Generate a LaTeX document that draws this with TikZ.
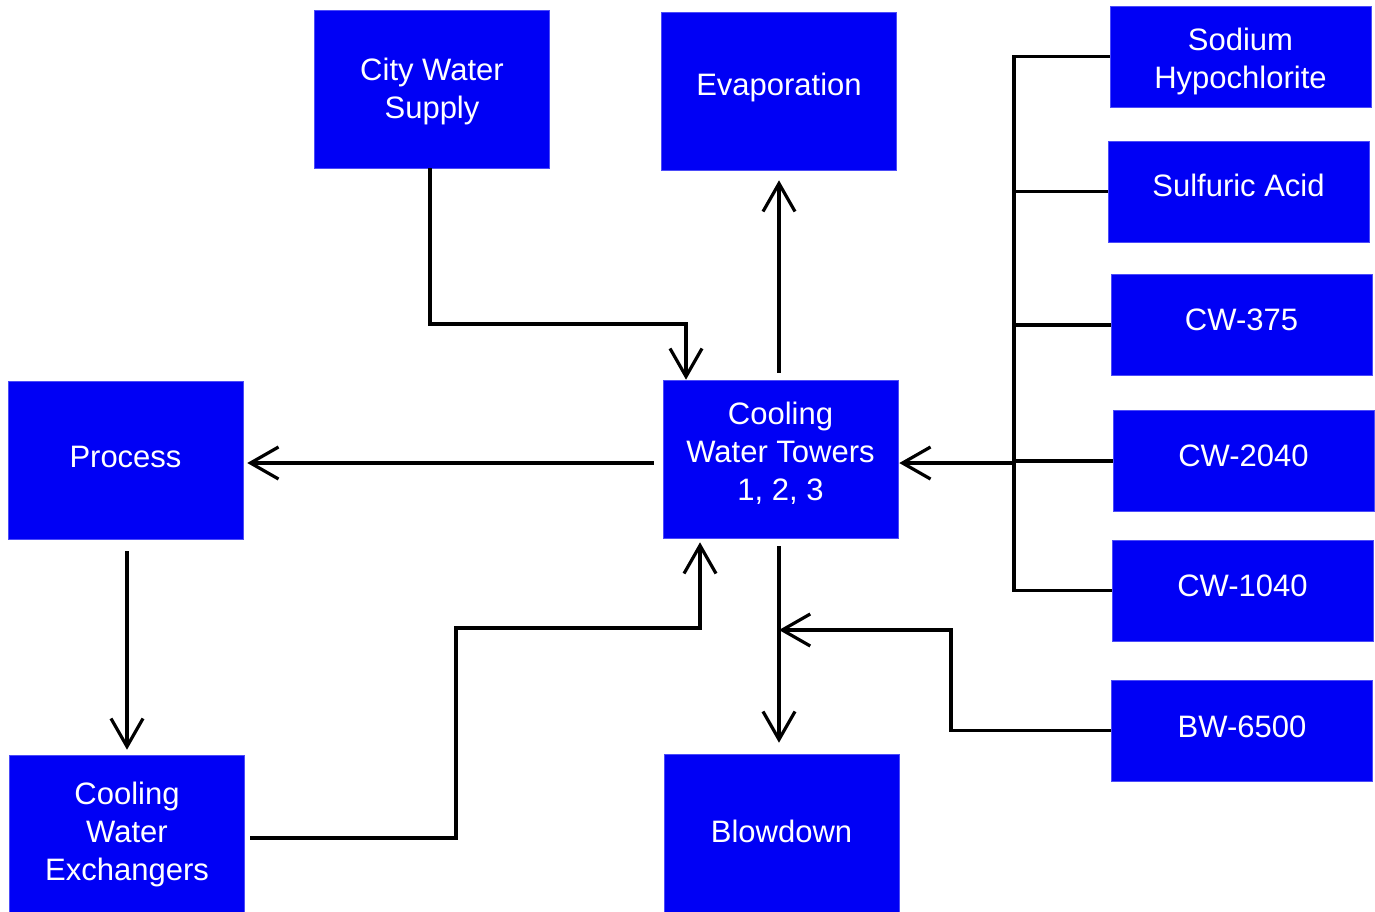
\documentclass[tikz,border=0pt]{standalone}
\usepackage{fontspec}
\setmainfont{Liberation Sans}
\usetikzlibrary{arrows.meta}
\definecolor{boxblue}{RGB}{0,0,245}
\newcommand{\liftxt}[2]{\raisebox{#1}[\height][\depth]{\begin{tabular}{@{}c@{}}#2\end{tabular}}}
\begin{document}
\begin{tikzpicture}[x=1pt,y=-1pt,
  box/.style={fill=boxblue, draw=boxblue!70!white, line width=0.6pt, text=white, inner sep=0pt, align=center,
    font=\fontsize{31}{38}\selectfont},
  big/.style={box, minimum width=235pt, minimum height=158pt},
  small/.style={box, minimum width=261pt, minimum height=101pt},
  conn/.style={draw=black, line width=3.2pt},
  arr/.style={conn, -{Straight Barb[length=28pt,width=32pt]}}
]
\useasboundingbox (0,0) rectangle (1375,912);
% nodes
\node[big] (city) at (432,89) {\liftxt{-3pt}{City Water\\Supply}};
\node[big] (evap) at (779,91) {\liftxt{3pt}{Evaporation}};
\node[small] (sodium) at (1240.5,56.5) {\liftxt{-5pt}{Sodium\\Hypochlorite}};
\node[small] (sulf) at (1238.5,191.5) {\liftxt{3pt}{Sulfuric Acid}};
\node[small] (cw375) at (1241.5,325) {\liftxt{2pt}{CW-375}};
\node[small] (cw2040) at (1243.5,461) {\liftxt{2pt}{CW-2040}};
\node[small] (cw1040) at (1242.5,590.5) {\liftxt{2pt}{CW-1040}};
\node[small] (bw) at (1242,730.5) {\liftxt{1pt}{BW-6500}};
\node[big] (process) at (125.5,460) {\liftxt{0pt}{Process}};
\node[big] (towers) at (780.5,459) {\liftxt{4pt}{Cooling\\Water Towers\\1, 2, 3}};
\node[big, minimum height=157pt] (exch) at (127,833.5) {\liftxt{-1pt}{Cooling\\Water\\Exchangers}};
\node[big] (blow) at (781.5,833) {\liftxt{-2pt}{Blowdown}};
% helper coordinates
\coordinate (c0) at (430,0);
\coordinate (c1) at (686,324);
\coordinate (h) at (0,463);
\coordinate (bus) at (1014,0);
\coordinate (p) at (127,0);
\coordinate (e0) at (250,838);
\coordinate (e1) at (456,628);
\coordinate (e2) at (700,628);
\coordinate (v) at (779,0);
\coordinate (b1) at (951,630);
% connectors
\draw[arr] (city.south -| c0) |- (c1) -- (c1 |- towers.north);
\draw[arr, shorten <=7pt, shorten >=10pt] (evap.south |- towers.north) -- (evap.south);
\draw[arr, shorten <=9pt, shorten >=4pt] (towers.west |- h) -- (process.east |- h);
\draw[conn] (sodium.west) -| (bus |- cw1040.west) -- (cw1040.west);
\draw[conn] (sulf.west) -- (sulf.west -| bus);
\draw[conn] (cw375.west) -- (cw375.west -| bus);
\draw[conn] (cw2040.west) -- (cw2040.west -| bus);
\draw[arr, shorten >=1pt] (h -| bus) -- (towers.east |- h);
\draw[arr, shorten <=12pt, shorten >=5pt] (process.south -| p) -- (exch.north -| p);
\draw[arr, shorten >=4pt] (e0) -| (e1) -- (e2) -- (e2 |- towers.south);
\draw[arr, shorten <=8pt, shorten >=11pt] (towers.south -| v) -- (blow.north -| v);
\draw[arr] (bw.west) -| (b1) -- (b1 -| v);
\end{tikzpicture}
\end{document}
